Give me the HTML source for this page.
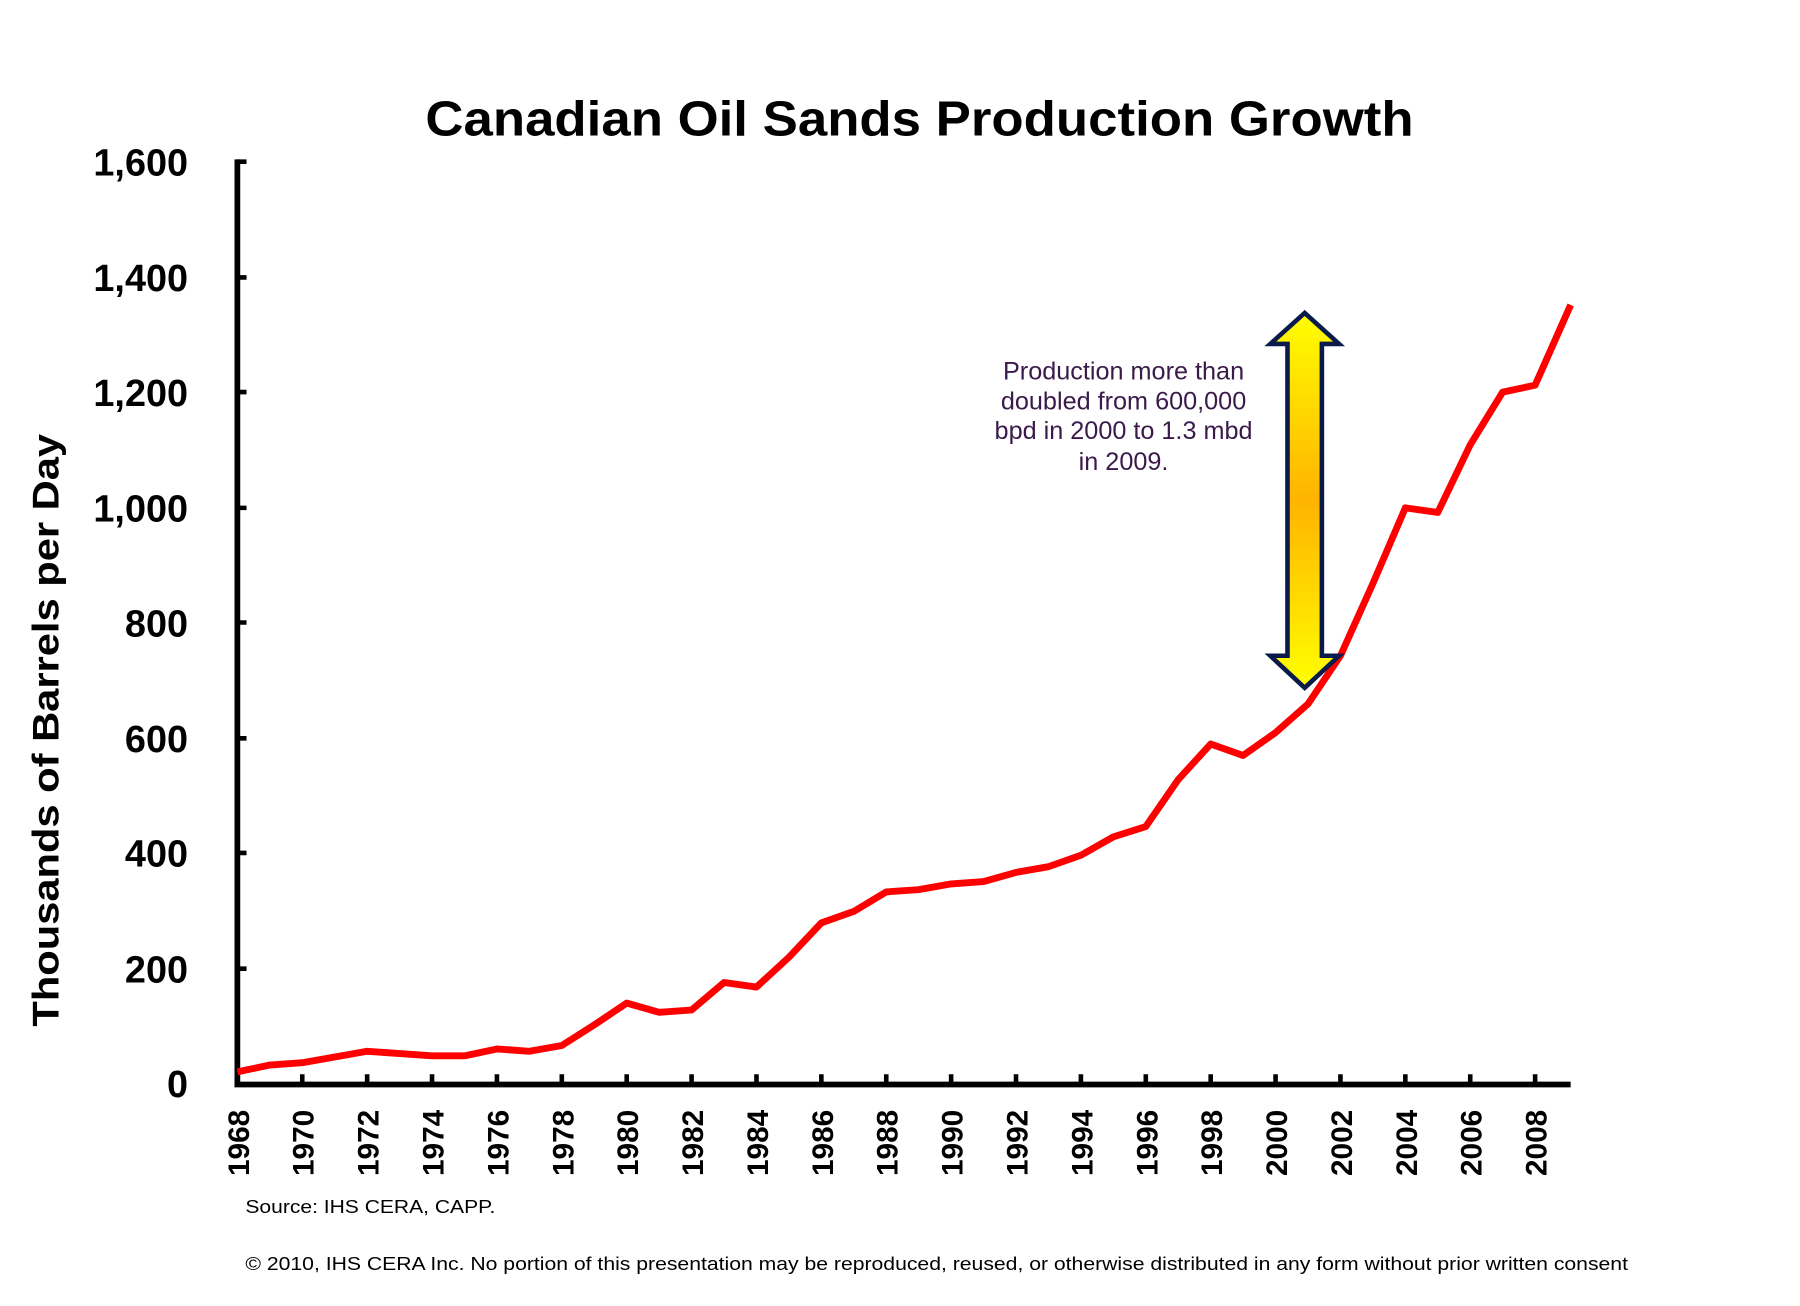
<!DOCTYPE html>
<html><head><meta charset="utf-8"><style>html,body{margin:0;padding:0;background:#fff}svg{display:block}</style></head>
<body>
<svg width="1800" height="1306" viewBox="0 0 1570 1139.2" xmlns="http://www.w3.org/2000/svg" font-family="Liberation Sans, sans-serif">
<defs>
<linearGradient id="g" x1="0" y1="0" x2="0" y2="1">
<stop offset="0" stop-color="#ffff00"/><stop offset="0.5" stop-color="#ffb300"/><stop offset="1" stop-color="#ffff00"/>
</linearGradient>
</defs>
<text x="802" y="118" text-anchor="middle" font-size="43" font-weight="bold" fill="#000" textLength="862" lengthAdjust="spacingAndGlyphs">Canadian Oil Sands Production Growth</text>
<g font-size="33" font-weight="bold" text-anchor="end" fill="#000">
<text x="164" y="153">1,600</text>
<text x="164" y="254">1,400</text>
<text x="164" y="354">1,200</text>
<text x="164" y="455">1,000</text>
<text x="164" y="555">800</text>
<text x="164" y="656">600</text>
<text x="164" y="756">400</text>
<text x="164" y="857">200</text>
<text x="164" y="957">0</text>
</g>
<text transform="translate(51,637) rotate(-90)" text-anchor="middle" font-size="32" font-weight="bold" fill="#000" textLength="517" lengthAdjust="spacingAndGlyphs">Thousands of Barrels per Day</text>
<g stroke="#000" fill="none">
<path d="M207,139 V946 H1370" stroke-width="5"/>
<path d="M207,141h8M207,242h8M207,342h8M207,443h8M207,543h8M207,644h8M207,744h8M207,845h8" stroke-width="4"/>
<path d="M263.6,944v-7M320.2,944v-7M376.8,944v-7M433.4,944v-7M490,944v-7M546.6,944v-7M603.2,944v-7M659.8,944v-7M716.4,944v-7M773,944v-7M829.6,944v-7M886.2,944v-7M942.8,944v-7M999.4,944v-7M1056,944v-7M1112.6,944v-7M1169.2,944v-7M1225.8,944v-7M1282.4,944v-7M1339,944v-7" stroke-width="4"/>
</g>
<g font-size="26" font-weight="bold" fill="#000" text-anchor="end">
<text transform="translate(217,968) rotate(-90)">1968</text>
<text transform="translate(273.6,968) rotate(-90)">1970</text>
<text transform="translate(330.2,968) rotate(-90)">1972</text>
<text transform="translate(386.8,968) rotate(-90)">1974</text>
<text transform="translate(443.4,968) rotate(-90)">1976</text>
<text transform="translate(500,968) rotate(-90)">1978</text>
<text transform="translate(556.6,968) rotate(-90)">1980</text>
<text transform="translate(613.2,968) rotate(-90)">1982</text>
<text transform="translate(669.8,968) rotate(-90)">1984</text>
<text transform="translate(726.4,968) rotate(-90)">1986</text>
<text transform="translate(783,968) rotate(-90)">1988</text>
<text transform="translate(839.6,968) rotate(-90)">1990</text>
<text transform="translate(896.2,968) rotate(-90)">1992</text>
<text transform="translate(952.8,968) rotate(-90)">1994</text>
<text transform="translate(1009.4,968) rotate(-90)">1996</text>
<text transform="translate(1066,968) rotate(-90)">1998</text>
<text transform="translate(1122.6,968) rotate(-90)">2000</text>
<text transform="translate(1179.2,968) rotate(-90)">2002</text>
<text transform="translate(1235.8,968) rotate(-90)">2004</text>
<text transform="translate(1292.4,968) rotate(-90)">2006</text>
<text transform="translate(1349,968) rotate(-90)">2008</text>
</g>
<polyline fill="none" stroke="#ff0000" stroke-width="6" stroke-linejoin="round" points="207,935 235.3,929 263.6,927 291.9,922 320.2,917 348.5,919 376.8,921 405.1,921 433.4,915 461.7,917 490,912 518.3,894 546.6,875 574.9,883 603.2,881 631.5,857 659.8,861 688.1,835 716.4,805 744.7,795 773,778 801.3,776 829.6,771 857.9,769 886.2,761 914.5,756 942.8,746 971.1,730 999.4,721 1027.7,680 1056,649 1084.3,659 1112.6,639 1140.9,614 1169.2,572 1197.5,509 1225.8,443 1254.1,447 1282.4,388 1310.7,342 1339,336 1370,266"/>
<path d="M1138,273 L1168,300 L1153,300 L1153,572 L1168,572 L1138,600 L1108,572 L1123,572 L1123,300 L1108,300 Z" fill="url(#g)" stroke="#0a1a4a" stroke-width="4" stroke-linejoin="miter"/>
<g font-size="22" fill="#3a1a4a" text-anchor="middle">
<text x="980" y="331">Production more than</text>
<text x="980" y="357">doubled from 600,000</text>
<text x="980" y="383">bpd in 2000 to 1.3 mbd</text>
<text x="980" y="410">in 2009.</text>
</g>
<text x="214" y="1058" font-size="16" fill="#000" textLength="218" lengthAdjust="spacingAndGlyphs">Source: IHS CERA, CAPP.</text>
<text x="214" y="1108" font-size="16" fill="#000" textLength="1206" lengthAdjust="spacingAndGlyphs">© 2010, IHS CERA Inc. No portion of this presentation may be reproduced, reused, or otherwise distributed in any form without prior written consent</text>
</svg>
</body></html>
